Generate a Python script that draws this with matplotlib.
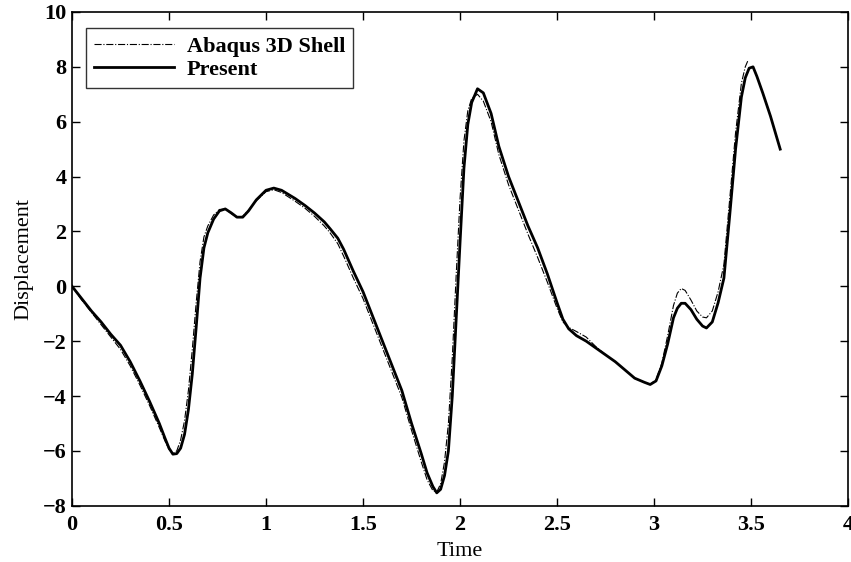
import matplotlib.pyplot as plt
import numpy as np

plt.rcParams['font.family'] = ['Liberation Serif', 'DejaVu Serif']
plt.rcParams['font.weight'] = 'bold'

# Present (solid)
t_pre = [0.0, 0.05, 0.1, 0.15, 0.2, 0.25, 0.3, 0.35, 0.4, 0.45, 0.48, 0.5, 0.52, 0.54,
         0.56, 0.58, 0.6, 0.62, 0.64, 0.66, 0.68, 0.7, 0.73, 0.76, 0.79, 0.82, 0.85, 0.88,
         0.91, 0.95, 1.0, 1.04, 1.08, 1.15, 1.2, 1.25, 1.3, 1.33, 1.37, 1.4, 1.45,
         1.5, 1.55, 1.6, 1.65, 1.7, 1.75, 1.8, 1.83, 1.86, 1.88, 1.9, 1.92, 1.94,
         1.96, 1.98, 2.0, 2.02, 2.04, 2.06, 2.09, 2.12, 2.16, 2.2, 2.25, 2.3, 2.35,
         2.4, 2.45, 2.5, 2.53, 2.56, 2.6, 2.65, 2.7, 2.75, 2.8, 2.85, 2.9, 2.95,
         2.98, 3.01, 3.04, 3.07, 3.1, 3.12, 3.14, 3.16, 3.19, 3.22, 3.25, 3.27, 3.3,
         3.33, 3.36, 3.39, 3.42, 3.45, 3.47, 3.49, 3.51, 3.53, 3.56, 3.6, 3.65]
y_pre = [0.0, -0.45, -0.9, -1.3, -1.75, -2.15, -2.75, -3.45, -4.2, -5.0, -5.55, -5.9, -6.12, -6.1,
         -5.9, -5.4, -4.5, -3.2, -1.5, 0.3, 1.4, 1.95, 2.45, 2.75, 2.82, 2.68, 2.52, 2.52,
         2.75, 3.15, 3.5, 3.58, 3.5, 3.2, 2.95, 2.67, 2.35, 2.1, 1.75, 1.35, 0.55,
         -0.2, -1.1, -2.0, -2.9, -3.8, -5.0, -6.1, -6.8, -7.3, -7.53, -7.4, -6.9, -6.0,
         -4.0, -1.2, 1.6, 4.3, 5.9, 6.7, 7.2, 7.05, 6.3, 5.1, 4.0, 3.1, 2.2,
         1.4, 0.45, -0.6, -1.2, -1.55, -1.8, -2.0, -2.25, -2.5, -2.75, -3.05, -3.35, -3.5,
         -3.58, -3.45, -2.9, -2.1, -1.15, -0.8, -0.62, -0.62, -0.85, -1.2, -1.45, -1.52, -1.3,
         -0.6, 0.3, 2.6, 5.0, 6.9, 7.6, 7.95, 8.0, 7.65, 7.05, 6.2, 5.0]

# Abaqus 3D Shell (dash-dot)
t_abq = [0.0, 0.05, 0.1, 0.15, 0.2, 0.25, 0.3, 0.35, 0.4, 0.45, 0.48, 0.5, 0.52, 0.54,
         0.56, 0.58, 0.6, 0.62, 0.64, 0.66, 0.68, 0.7, 0.73, 0.76, 0.79, 0.82, 0.85, 0.88,
         0.91, 0.95, 1.0, 1.04, 1.08, 1.15, 1.2, 1.25, 1.3, 1.33, 1.37, 1.4, 1.45,
         1.5, 1.55, 1.6, 1.65, 1.7, 1.75, 1.8, 1.83, 1.86, 1.88, 1.9, 1.92, 1.94,
         1.96, 1.98, 2.0, 2.02, 2.04, 2.06, 2.09, 2.12, 2.16, 2.2, 2.25, 2.3, 2.35,
         2.4, 2.45, 2.5, 2.53, 2.56, 2.6, 2.65, 2.7, 2.75, 2.8, 2.85, 2.9, 2.95,
         2.98, 3.01, 3.04, 3.07, 3.1, 3.12, 3.14, 3.16, 3.19, 3.22, 3.25, 3.27, 3.3,
         3.33, 3.36, 3.39, 3.42, 3.45, 3.47, 3.485]
y_abq = [0.0, -0.5, -0.95, -1.4, -1.85, -2.3, -2.9, -3.6, -4.35, -5.15, -5.65, -5.95, -6.1, -6.0,
         -5.6, -4.9, -3.8, -2.3, -0.6, 0.9, 1.8, 2.2, 2.6, 2.8, 2.82, 2.65, 2.52, 2.55,
         2.78, 3.12, 3.45, 3.52, 3.42, 3.1, 2.85, 2.55, 2.2, 1.95, 1.55, 1.1, 0.3,
         -0.45, -1.35, -2.25, -3.15, -4.05, -5.25, -6.4, -7.05, -7.45, -7.5, -7.2, -6.4, -5.0,
         -2.6, 0.4, 3.2, 5.3, 6.4, 6.85, 7.0, 6.75, 6.0, 4.8, 3.7, 2.8, 1.9,
         1.05, 0.15, -0.8, -1.3, -1.5, -1.65, -1.85, -2.2, -2.5, -2.75, -3.05, -3.35, -3.5,
         -3.58, -3.4, -2.8, -1.8, -0.7, -0.25, -0.08, -0.15, -0.5, -0.9, -1.12, -1.15, -0.9,
         -0.2, 0.8, 3.2, 5.6, 7.4, 8.0, 8.25]

fig = plt.figure(figsize=(8.51, 5.62), dpi=100)
ax = fig.add_axes([0.0846, 0.1001, 0.912, 0.8786])

ax.plot(t_abq, y_abq, color='black', linestyle='-.', linewidth=0.8, label='Abaqus 3D Shell')
ax.plot(t_pre, y_pre, color='black', linestyle='-', linewidth=2.0, label='Present')

ax.set_xlim(0, 4)
ax.set_ylim(-8, 10)
ax.set_xticks(np.arange(0, 4.01, 0.5))
ax.set_xticklabels(['0', '0.5', '1', '1.5', '2', '2.5', '3', '3.5', '4'])
ax.set_yticks(np.arange(-8, 10.1, 2))
ax.set_yticklabels(['\u22128', '\u22126', '\u22124', '\u22122', '0', '2', '4', '6', '8', '10'])
ax.tick_params(direction='in', top=True, right=True, length=6, width=1, labelsize=16)
ax.tick_params(axis='x', pad=7)
ax.tick_params(axis='y', pad=4)
for s in ax.spines.values():
    s.set_linewidth(1.2)

ax.set_xlabel('Time', fontsize=16, labelpad=5)
ax.set_ylabel('Displacement', fontsize=16, labelpad=7)

leg = ax.legend(loc='upper left', bbox_to_anchor=(0.018, 0.967), fontsize=16, frameon=True,
                fancybox=False, handlelength=3.6, handletextpad=0.6, borderpad=0.35,
                labelspacing=0.12, borderaxespad=0)
leg.get_frame().set_edgecolor('black')
leg.get_frame().set_linewidth(1.0)

fig.savefig('out.png', dpi=100)
